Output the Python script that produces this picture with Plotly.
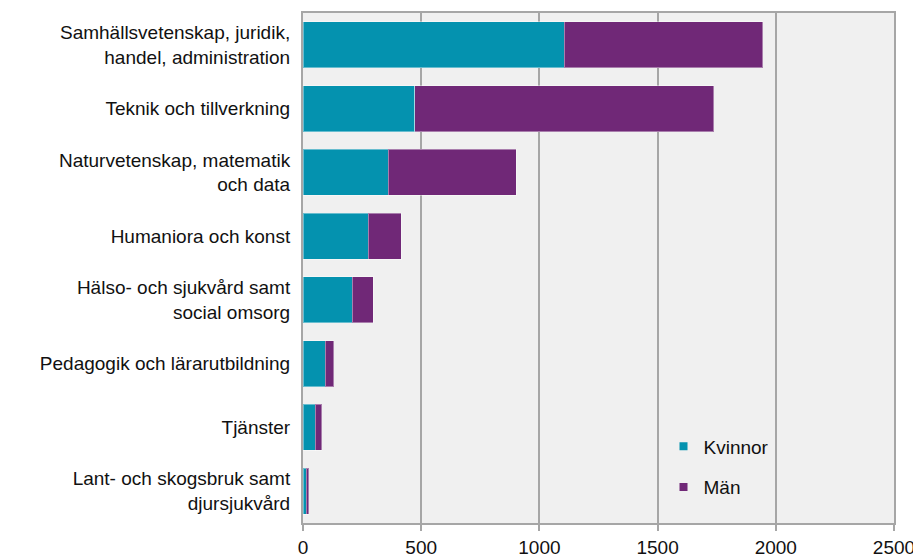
import plotly.graph_objects as go

categories = [
    "Samhällsvetenskap, juridik,<br>handel, administration",
    "Teknik och tillverkning",
    "Naturvetenskap, matematik<br>och data",
    "Humaniora och konst",
    "Hälso- och sjukvård samt<br>social omsorg",
    "Pedagogik och lärarutbildning",
    "Tjänster",
    "Lant- och skogsbruk samt<br>djursjukvård",
]
kvinnor = [1105, 472, 361, 276, 208, 94, 51, 14]
man = [840, 1265, 540, 139, 90, 37, 29, 10]
series_names = ["Kvinnor", "Män"]
series_colors = ["#0492AF", "#702877"]
x_ticks = [0, 500, 1000, 1500, 2000, 2500]

FONT = "Liberation Sans"

fig = go.Figure()
for name, vals, col in zip(series_names, [kvinnor, man], series_colors):
    fig.add_trace(go.Bar(
        y=categories, x=vals, name=name, orientation="h",
        marker=dict(color=col, line=dict(color="rgba(255,255,255,0.4)", width=1)),
        showlegend=False,
    ))
# legend entries with small square markers
for name, col in zip(series_names, series_colors):
    fig.add_trace(go.Scatter(
        x=[None], y=[None], mode="markers", name=name,
        marker=dict(symbol="square", size=8, color=col),
        legendgroup=name, showlegend=True,
    ))

fig.update_layout(
    barmode="stack",
    bargap=0.28,
    width=921, height=558,
    margin=dict(l=295, r=35, t=5, b=43),
    paper_bgcolor="white",
    plot_bgcolor="#F0F0F0",
    font=dict(family=FONT, size=19, color="#111111"),
    showlegend=True,
    legend=dict(
        x=0.61, y=0.11, xanchor="left", yanchor="middle",
        bgcolor="rgba(0,0,0,0)", font=dict(size=19),
        tracegroupgap=13, traceorder="grouped",
        itemwidth=30,
    ),
)
fig.update_xaxes(
    range=[0, 2500], tickvals=x_ticks,
    showgrid=True, gridcolor="#A6A6A6", gridwidth=2,
    showline=True, linecolor="#A6A6A6", linewidth=2, mirror=True,
    ticks="outside", ticklen=6, tickcolor="#A6A6A6", tickwidth=2,
    zeroline=False, fixedrange=True, automargin=False,
)
fig.update_yaxes(
    autorange="reversed",
    showline=True, linecolor="#A6A6A6", linewidth=2, mirror=True,
    showgrid=False, ticks="", ticklabelstandoff=7, automargin=False,
)

fig.write_html("out.html")
